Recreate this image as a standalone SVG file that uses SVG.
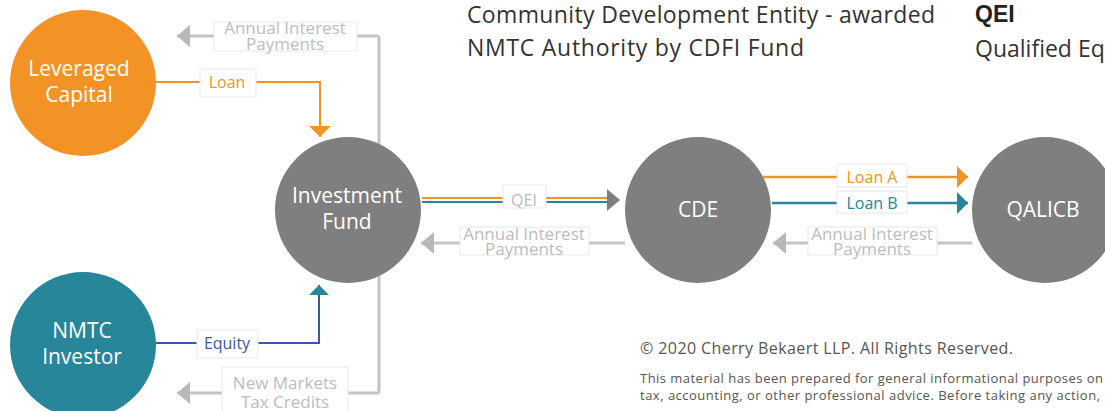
<svg xmlns="http://www.w3.org/2000/svg" width="1105" height="411" viewBox="0 0 1105 411">
<style>
.node{font-family:"Open Sans","Noto Sans",sans-serif;font-size:21px;fill:#fff;text-anchor:middle}
.lbl{font-family:"Open Sans","Noto Sans",sans-serif;font-size:16px;text-anchor:middle}
.gl{fill:#bcbcbc;font-size:17px}
.box{fill:#fff;stroke:#e8e8e8;stroke-width:1}
.gline{fill:none;stroke:#c4c4c4;stroke-width:3}
.hdr{font-family:"Open Sans","Noto Sans",sans-serif;font-size:23px;fill:#333}
.foot{font-family:"Open Sans","Noto Sans",sans-serif;fill:#555}
</style>
<defs>
<marker id="ag" markerUnits="userSpaceOnUse" markerWidth="14" markerHeight="24" refX="13" refY="12" orient="auto"><path d="M0,1 L13,12 L0,23 z" fill="#b8b8b8"/></marker>
<marker id="ao" markerUnits="userSpaceOnUse" markerWidth="12" markerHeight="22" refX="11" refY="11" orient="auto"><path d="M0,0 L11,11 L0,22 z" fill="#f39325"/></marker>
<marker id="at" markerUnits="userSpaceOnUse" markerWidth="12" markerHeight="22" refX="11" refY="11" orient="auto"><path d="M0,0 L11,11 L0,22 z" fill="#28869b"/></marker>
</defs>
<rect width="1105" height="411" fill="#fff"/>

<g id="connectors">
<path d="M156,82 H320 V137" fill="none" stroke="#f39325" stroke-width="2" marker-end="url(#ao)"/>
<path d="M156,343 H319 V285" fill="none" stroke="#3859a3" stroke-width="2"/>
<path d="M309,295 L319,285 L329,295 z" fill="#28869b"/>
<path d="M379,36 V393" class="gline"/>
<path d="M379,36 H177" class="gline" marker-end="url(#ag)"/>
<path d="M379,393 H177" class="gline" marker-end="url(#ag)"/>
<path d="M422,198 H610" fill="none" stroke="#f39325" stroke-width="2"/>
<path d="M422,202 H610" fill="none" stroke="#28869b" stroke-width="2"/>
<path d="M607,189 L620,200 L607,211 z" fill="#7f7f7f"/>
<path d="M625,243 H421" class="gline" marker-end="url(#ag)"/>
<path d="M763,177 H968" fill="none" stroke="#f39325" stroke-width="2.5" marker-end="url(#ao)"/>
<path d="M772,203 H968" fill="none" stroke="#28869b" stroke-width="2.5" marker-end="url(#at)"/>
<path d="M972,243 H773" class="gline" marker-end="url(#ag)"/>

<rect class="box" x="214" y="22" width="143" height="29"/>
<text class="lbl gl" x="285" y="34">Annual Interest<tspan x="285" y="50">Payments</tspan></text>
<rect class="box" x="200" y="69" width="56" height="28"/>
<text class="lbl" x="227" y="88" fill="#f39325">Loan</text>
<rect class="box" x="197" y="330" width="61" height="28"/>
<text class="lbl" x="227" y="349" fill="#3859a3">Equity</text>
<rect class="box" x="222" y="367" width="126" height="50"/>
<text class="lbl gl" x="285" y="389">New Markets<tspan x="285" y="408">Tax Credits</tspan></text>
<rect class="box" x="503" y="185" width="43" height="23"/>
<text class="lbl gl" x="524" y="206" style="font-size:16px">QEI</text>
<rect class="box" x="460" y="227" width="129" height="28"/>
<text class="lbl gl" x="524" y="240">Annual Interest<tspan x="524" y="255">Payments</tspan></text>
<rect class="box" x="837" y="164" width="70" height="23"/>
<text class="lbl" x="872" y="183" fill="#f39325">Loan A</text>
<rect class="box" x="837" y="191" width="70" height="22"/>
<text class="lbl" x="872" y="209" fill="#28869b">Loan B</text>
<rect class="box" x="808" y="227" width="129" height="28"/>
<text class="lbl gl" x="872" y="240">Annual Interest<tspan x="872" y="255">Payments</tspan></text>
</g>

<g id="leveraged-capital">
<circle cx="83" cy="83" r="73" fill="#f39325"/>
<text class="node" x="79" y="76">Leveraged</text>
<text class="node" x="79" y="102">Capital</text>
</g>
<g id="nmtc-investor">
<circle cx="83" cy="345" r="73" fill="#28869b"/>
<text class="node" x="82" y="338">NMTC</text>
<text class="node" x="82" y="364">Investor</text>
</g>
<g id="investment-fund">
<circle cx="348" cy="210" r="73" fill="#7f7f7f"/>
<text class="node" x="347" y="203">Investment</text>
<text class="node" x="347" y="229">Fund</text>
</g>
<g id="cde">
<circle cx="698" cy="210" r="73" fill="#7f7f7f"/>
<text class="node" x="698" y="217">CDE</text>
</g>
<g id="qalicb">
<circle cx="1045" cy="210" r="73" fill="#7f7f7f"/>
<text class="node" x="1043" y="217">QALICB</text>
</g>

<g id="legend">
<text class="hdr" x="467" y="23" textLength="468">Community Development Entity - awarded</text>
<text class="hdr" x="467" y="56" textLength="337">NMTC Authority by CDFI Fund</text>
<text x="975" y="22" font-family="Liberation Sans,Arial,sans-serif" font-weight="bold" font-size="23" fill="#222">QEI</text>
<text class="hdr" x="975" y="57">Qualified Eq</text>
</g>
<g id="footer">
<text class="foot" x="640" y="354" font-size="16" textLength="373">© 2020 Cherry Bekaert LLP. All Rights Reserved.</text>
<text class="foot" x="640" y="383" font-size="13" fill="#444" textLength="463">This material has been prepared for general informational purposes on</text>
<text class="foot" x="640" y="400" font-size="13" fill="#444" textLength="460">tax, accounting, or other professional advice. Before taking any action,</text>
</g>
</svg>
